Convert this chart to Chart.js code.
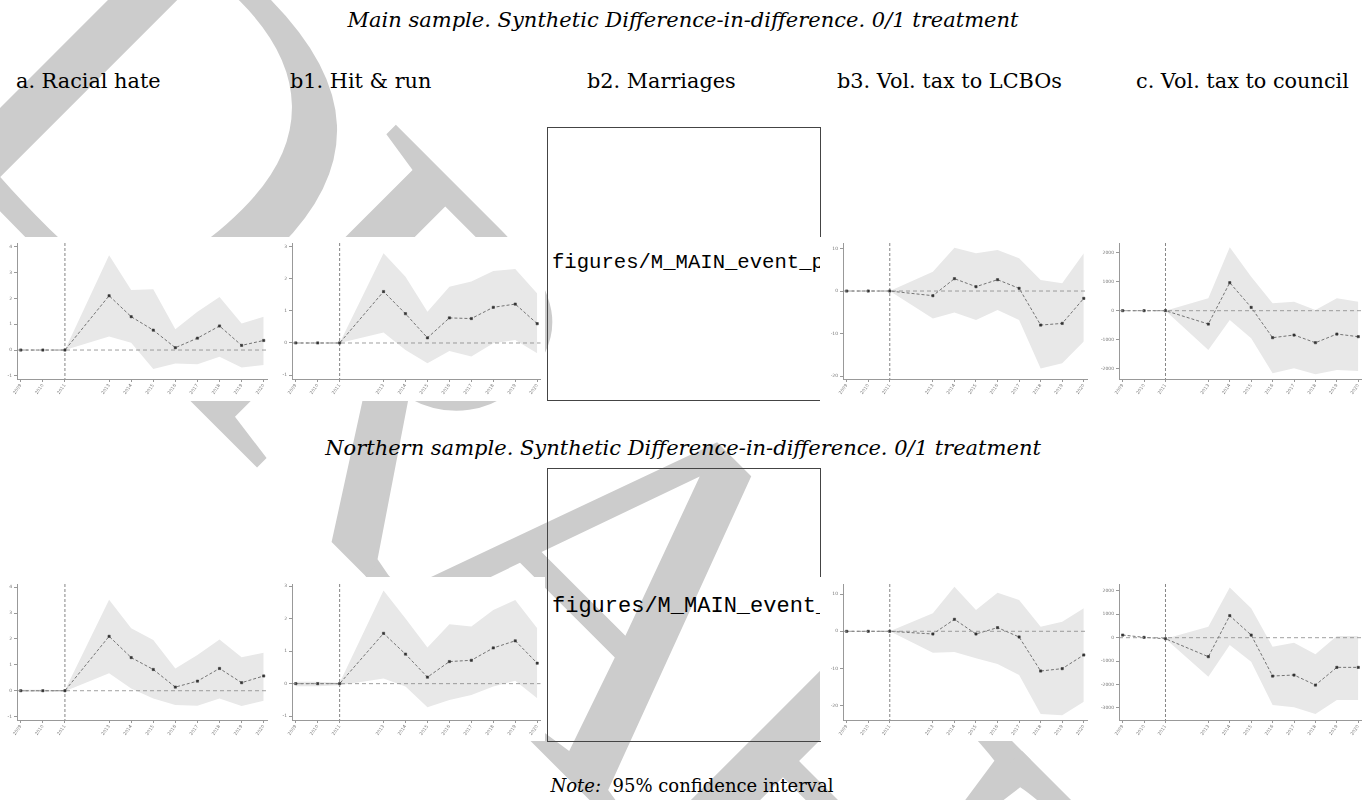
<!DOCTYPE html>
<html>
<head>
<meta charset="utf-8">
<script src="https://cdn.jsdelivr.net/npm/chart.js@4"></script>
<style>
  html, body { margin:0; padding:0; background:#fff; }
  #page { position:relative; width:1366px; height:800px; overflow:hidden; background:#fff; }
  .wm { position:absolute; left:563px; top:526px; transform:translate(-50%,-50%) rotate(45deg);
        font-family:"Liberation Serif", serif; font-size:520px; letter-spacing:-40px; color:#cccccc; white-space:nowrap; z-index:0; line-height:1; }
  .t { position:absolute; font-family:"DejaVu Serif", serif; color:#000; white-space:nowrap; z-index:1; }
  .title { font-style:italic; font-size:21px; transform:translate(-50%,-50%); }
  .col { font-size:20.8px; transform:translateY(-50%); }
  .box { position:absolute; box-sizing:border-box; border:1px solid #444; z-index:1; overflow:hidden; background:transparent; }
  .box span { position:absolute; left:4px; font-family:"Liberation Mono", monospace; color:#000; white-space:nowrap; transform:translateY(-50%); }
  canvas { position:absolute; z-index:2; background:#fff; }
</style>
</head>
<body>
<div id="page">
  <div class="wm">DRAFT</div>
  <div class="t title" style="left:683px; top:20px;">Main sample. Synthetic Difference-in-difference. 0/1 treatment</div>
  <div class="t col" style="left:16px; top:81px;">a. Racial hate</div>
  <div class="t col" style="left:290px; top:81px;">b1. Hit &amp; run</div>
  <div class="t col" style="left:587px; top:81px;">b2. Marriages</div>
  <div class="t col" style="left:837px; top:81px;">b3. Vol. tax to LCBOs</div>
  <div class="t col" style="left:1136px; top:81px;">c. Vol. tax to council</div>
  <div class="box" style="left:547px; top:127px; width:274px; height:274px;"><span style="top:134px; font-size:20.6px;">figures/M_MAIN_event_plot</span></div>
  <div class="t title" style="left:683px; top:448px;">Northern sample. Synthetic Difference-in-difference. 0/1 treatment</div>
  <div class="box" style="left:547px; top:468px; width:274px; height:274px;"><span style="top:137px; font-size:22px;">figures/M_MAIN_event_plot</span></div>
  <div class="t" style="left:692px; top:785px; font-size:18px; transform:translate(-50%,-50%);"><i>Note:</i>&nbsp; 95% confidence interval</div>
</div>
<script>
// ---- x positions (event time) and tick labels ----
const xPos    = [0, 1, 2, 4, 5, 6, 7, 8, 9, 10, 11];
const xLabels = ['2009','2010','2011','2013','2014','2015','2016','2017','2018','2019','2020'];
const treatX  = 2;

// ---- Main sample ----
const mainA_est = [0, 0, 0, 2.10, 1.29, 0.77, 0.09, 0.46, 0.93, 0.18, 0.37];
const mainA_hi  = [0, 0, 0, 3.67, 2.32, 2.35, 0.80, 1.48, 2.05, 1.03, 1.29];
const mainA_lo  = [0, 0, 0, 0.52, 0.28, -0.73, -0.52, -0.55, -0.26, -0.68, -0.58];

const mainB1_est = [0, 0, 0, 1.60, 0.91, 0.16, 0.78, 0.76, 1.11, 1.21, 0.60];
const mainB1_hi  = [0, 0, 0, 2.79, 2.06, 0.97, 1.75, 1.91, 2.24, 2.30, 1.54];
const mainB1_lo  = [0, 0, 0, 0.33, -0.22, -0.63, -0.25, -0.42, -0.01, 0.09, -0.32];

const mainB3_est = [0, 0, 0, -1.10, 2.91, 1.02, 2.67, 0.63, -8.01, -7.62, -1.73];
const mainB3_hi  = [0, 0, 0, 4.56, 10.2, 8.88, 9.66, 7.70, 2.59, 1.81, 8.88];
const mainB3_lo  = [0, 0, 0, -6.44, -5.03, -6.83, -4.48, -6.83, -18.2, -17.0, -11.9];

const mainC_est = [0, 0, 0, -461, 968, 115, -934, -841, -1107, -807, -899];
const mainC_hi  = [0, 0, 0, 427, 2190, 1176, 254, 311, 23, 427, 311];
const mainC_lo  = [0, 0, 0, -1360, -323, -957, -2167, -1994, -2202, -2052, -2086];

// ---- Northern sample ----
const northA_est = [0, 0, 0, 2.10, 1.28, 0.82, 0.14, 0.37, 0.86, 0.31, 0.57];
const northA_hi  = [0.04, 0.04, 0.02, 3.51, 2.41, 1.96, 0.86, 1.38, 1.98, 1.29, 1.47];
const northA_lo  = [-0.04, -0.04, -0.02, 0.67, 0.09, -0.30, -0.55, -0.58, -0.30, -0.59, -0.39];

const northB1_est = [0, 0, 0, 1.55, 0.91, 0.20, 0.68, 0.72, 1.10, 1.32, 0.63];
const northB1_hi  = [0.06, 0.06, 0.03, 2.87, 2.01, 1.11, 1.83, 1.76, 2.27, 2.58, 1.71];
const northB1_lo  = [-0.08, -0.08, -0.05, 0.16, -0.09, -0.73, -0.50, -0.35, -0.09, 0.09, -0.45];

const northB3_est = [0, 0, 0, -0.72, 3.23, -0.72, 0.99, -1.53, -10.7, -10.06, -6.38];
const northB3_hi  = [0, 0, 0, 4.85, 12.0, 5.75, 10.4, 8.45, 1.26, 2.61, 6.2];
const northB3_lo  = [0, 0, 0, -5.75, -5.57, -7.28, -8.81, -11.8, -22.3, -22.6, -19.0];

const northC_est = [114, 14, -43, -812, 940, 114, -1638, -1595, -2023, -1268, -1268];
const northC_hi  = [114, 14, -43, 470, 2150, 1254, -385, -214, -712, 71, 71];
const northC_lo  = [114, 14, -43, -1667, -313, -1026, -2877, -2977, -3262, -2664, -2664];

// ---- y tick values ----
const ticksA  = [-1, 0, 1, 2, 3, 4];
const ticksB1 = [-1, 0, 1, 2, 3];
const ticksB3 = [-20, -10, 0, 10];
const ticksCmain  = [-2000, -1000, 0, 1000, 2000];
const ticksCnorth = [-3000, -2000, -1000, 0, 1000, 2000];

const page = document.getElementById('page');

function pts(arr) { return arr.map((v, i) => ({ x: xPos[i], y: v })); }

const refLines = {
  id: 'refLines',
  beforeDraw(chart) {
    const c = chart.ctx;
    c.save();
    c.fillStyle = '#fff';
    c.fillRect(0, 0, chart.width, chart.height);
    c.restore();
  },
  beforeDatasetsDraw(chart) {
    const c = chart.ctx, a = chart.chartArea, xs = chart.scales.x;
    c.save();
    c.lineWidth = 0.8;
    c.strokeStyle = '#666';
    c.setLineDash([3, 2]);
    const vx = xs.getPixelForValue(treatX);
    c.beginPath(); c.moveTo(vx, a.top); c.lineTo(vx, a.bottom); c.stroke();
    c.restore();
  },
  afterDatasetsDraw(chart) {
    const c = chart.ctx, a = chart.chartArea, ys = chart.scales.y;
    c.save();
    c.lineWidth = 0.8;
    c.strokeStyle = '#888';
    c.setLineDash([4, 3]);
    const y0 = ys.getPixelForValue(0);
    c.beginPath(); c.moveTo(a.left, y0); c.lineTo(a.right, y0); c.stroke();
    c.restore();
  }
};

function panel(o) {
  const cv = document.createElement('canvas');
  cv.width = o.w; cv.height = o.h;
  cv.style.left = o.left + 'px'; cv.style.top = o.top + 'px';
  cv.style.width = o.w + 'px'; cv.style.height = o.h + 'px';
  page.appendChild(cv);
  new Chart(cv, {
    type: 'line',
    data: {
      datasets: [
        { data: pts(o.hi), fill: '+1', backgroundColor: '#e8e8e8', borderWidth: 0, pointRadius: 0, tension: 0, order: 3 },
        { data: pts(o.lo), fill: false, borderWidth: 0, pointRadius: 0, tension: 0, order: 3 },
        { data: pts(o.est), fill: false, borderColor: '#666', borderWidth: 0.9, borderDash: [3, 2],
          pointRadius: 1.6, pointStyle: 'rect', pointBackgroundColor: '#333', pointBorderColor: '#333', pointBorderWidth: 0.5, tension: 0, order: 1 }
      ]
    },
    options: {
      responsive: false, animation: false, devicePixelRatio: 1,
      layout: { padding: { top: o.padTop, right: o.padRight, left: 0, bottom: 0 } },
      plugins: { legend: { display: false }, tooltip: { enabled: false } },
      scales: {
        x: {
          type: 'linear', min: -0.17, max: 11.15,
          afterBuildTicks: s => { s.ticks = xPos.map(v => ({ value: v })); },
          afterFit: s => { s.height = o.xH; },
          ticks: { autoSkip: false, minRotation: 55, maxRotation: 55, padding: 1,
                   font: { size: 4.5, family: 'DejaVu Sans' }, color: '#777',
                   callback: v => { const i = xPos.indexOf(v); return i >= 0 ? xLabels[i] : ''; } },
          grid: { drawOnChartArea: false, drawTicks: true, tickLength: 3, color: '#999' },
          border: { display: true, color: '#999', width: 1 }
        },
        y: {
          min: o.ymin, max: o.ymax,
          afterBuildTicks: s => { s.ticks = o.yt.map(v => ({ value: v })); },
          afterFit: s => { s.width = o.yW; },
          ticks: { autoSkip: false, padding: 2, font: { size: 4.5, family: 'DejaVu Sans' }, color: '#777',
                   callback: v => String(v) },
          grid: { drawOnChartArea: false, drawTicks: true, tickLength: 3, color: '#999' },
          border: { display: true, color: '#999', width: 1 }
        }
      }
    },
    plugins: [refLines]
  });
}

// top row: plot area 243..379 ; bottom row: 584..720
const topY = 237, botY = 577, H = 164;
panel({ left: 0,    top: topY, w: 275, h: H, padTop: 6, padRight: 8, xH: 22, yW: 17, ymin: -1.12, ymax: 4.14, yt: ticksA,  est: mainA_est,  hi: mainA_hi,  lo: mainA_lo });
panel({ left: 275,  top: topY, w: 270, h: H, padTop: 6, padRight: 3, xH: 22, yW: 17, ymin: -1.12, ymax: 3.11, yt: ticksB1, est: mainB1_est, hi: mainB1_hi, lo: mainB1_lo });
panel({ left: 820,  top: topY, w: 274, h: H, padTop: 6, padRight: 7, xH: 22, yW: 23, ymin: -20.7, ymax: 11.3, yt: ticksB3, est: mainB3_est, hi: mainB3_hi, lo: mainB3_lo });
panel({ left: 1094, top: topY, w: 272, h: H, padTop: 6, padRight: 3, xH: 22, yW: 25, ymin: -2362, ymax: 2341, yt: ticksCmain, est: mainC_est, hi: mainC_hi, lo: mainC_lo });
panel({ left: 0,    top: botY, w: 275, h: H, padTop: 7, padRight: 8, xH: 21, yW: 17, ymin: -1.13, ymax: 4.12, yt: ticksA,  est: northA_est,  hi: northA_hi,  lo: northA_lo });
panel({ left: 275,  top: botY, w: 270, h: H, padTop: 7, padRight: 3, xH: 21, yW: 17, ymin: -1.12, ymax: 3.07, yt: ticksB1, est: northB1_est, hi: northB1_hi, lo: northB1_lo });
panel({ left: 820,  top: botY, w: 274, h: H, padTop: 7, padRight: 7, xH: 21, yW: 23, ymin: -23.9, ymax: 12.75, yt: ticksB3, est: northB3_est, hi: northB3_hi, lo: northB3_lo });
panel({ left: 1094, top: botY, w: 272, h: H, padTop: 7, padRight: 3, xH: 21, yW: 25, ymin: -3517, ymax: 2295, yt: ticksCnorth, est: northC_est, hi: northC_hi, lo: northC_lo });
</script>
</body>
</html>
